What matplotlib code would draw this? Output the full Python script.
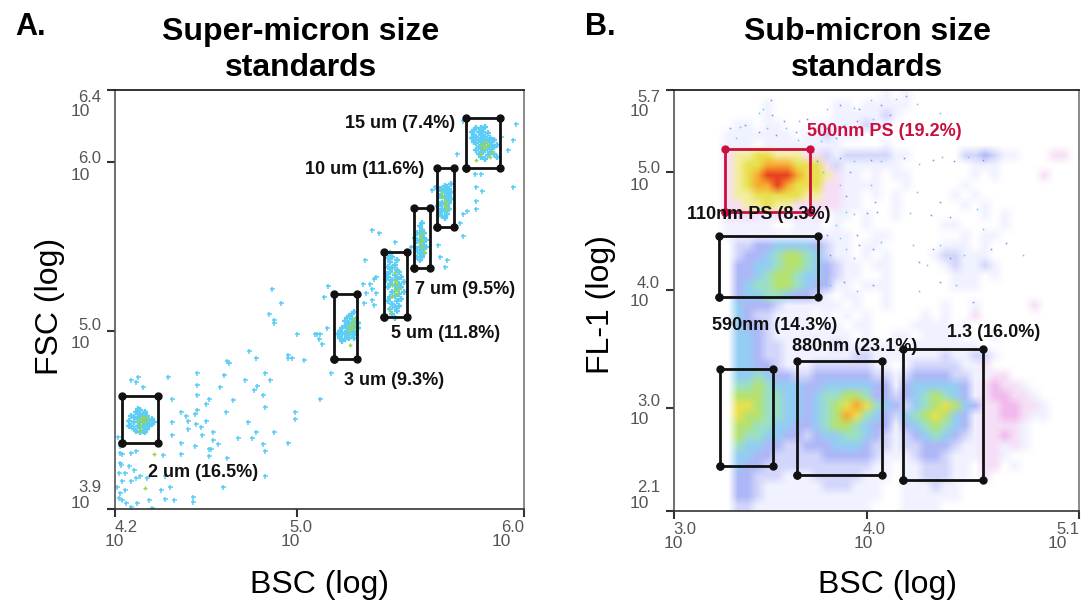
import matplotlib
matplotlib.use('Agg')
import matplotlib.pyplot as plt
from matplotlib.colors import ListedColormap
import numpy as np

plt.rcParams['font.family'] = ['Liberation Sans', 'DejaVu Sans']

# all values are log10 of the channel
a_xlim = (4.198, 6.0)
a_ylim = (3.947, 6.426)
a_xticks = [4.198, 5.0, 6.0]
a_xticklabels = ['4.2', '5.0', '6.0']
a_yticks = [3.947, 5.0, 6.0, 6.426]
a_yticklabels = ['3.9', '5.0', '6.0', '6.4']

b_xlim = (3.0, 5.098)
b_ylim = (2.127, 5.695)
b_xticks = [3.0, 4.0, 5.098]
b_xticklabels = ['3.0', '4.0', '5.1']
b_yticks = [2.127, 3.0, 4.0, 5.0, 5.695]
b_yticklabels = ['2.1', '3.0', '4.0', '5.0', '5.7']

sparse_pts = [
    (4.27,4.71),(4.29,4.70),(4.30,4.73),(4.32,4.67),(4.43,4.73),(4.56,4.75),(4.56,4.68),(4.68,4.74),
    (4.66,4.67),(4.56,4.62),(4.61,4.60),(4.60,4.57),(4.45,4.60),(4.72,4.59),(4.69,4.82),(4.70,4.81),
    (4.79,4.88),(4.82,4.84),(4.77,4.71),(4.86,4.75),(4.88,4.71),(4.81,4.65),(4.85,4.62),(4.825,4.675),
    (4.86,4.55),(4.685,4.52),(4.56,4.53),(4.55,4.51),(4.49,4.52),(4.51,4.50),(4.52,4.47),(4.45,4.46),
    (4.60,4.47),(4.555,4.45),(4.575,4.43),(4.52,4.42),(4.58,4.385),(4.45,4.385),(4.63,4.40),(4.63,4.355),
    (4.65,4.33),(4.49,4.34),(4.55,4.32),(4.61,4.30),(4.62,4.30),(4.61,4.26),(4.49,4.27),(4.41,4.265),
    (4.69,4.25),(4.785,4.46),(4.74,4.37),(4.80,4.37),(4.82,4.40),(4.90,4.40),(4.85,4.33),(4.86,4.29),
    (4.96,4.34),(4.99,4.52),(4.99,4.48),(5.10,4.60),(5.15,4.75),(4.96,4.86),(4.96,4.84),(4.98,4.84),
    (5.03,4.83),(5.00,4.98),(4.875,5.10),(4.90,5.045),(4.90,5.065),(4.93,5.165),(5.09,4.985),(5.10,4.985),
    (5.08,4.98),(5.095,4.95),(5.11,4.925),(5.13,5.015),
    (4.22,4.28),(4.23,4.27),(4.22,4.22),(4.225,4.21),(4.26,4.20),(4.28,4.18),(4.24,4.16),(4.215,4.16),
    (4.27,4.115),(4.23,4.11),(4.29,4.13),(4.31,4.14),(4.34,4.13),(4.205,4.08),(4.22,4.04),(4.24,4.06),
    (4.215,4.01),(4.23,4.00),(4.245,3.98),(4.27,3.96),(4.295,3.98),(4.35,4.00),(4.40,4.06),(4.42,4.005),
    (4.46,4.00),(4.54,4.02),(4.54,3.99),(4.44,4.076),(4.675,4.08),(4.86,4.14),(4.42,4.14),(4.27,4.28),
    (4.29,4.29),(4.36,3.95),(4.21,4.375),(4.22,4.32),
    (4.89,5.25),(5.135,5.265),(5.12,5.20),(5.30,5.42),(5.33,5.60),(5.36,5.58),(5.43,5.525),(5.29,5.28),
    (5.32,5.28),(5.34,5.31),(5.35,5.32),(5.305,5.225),(5.33,5.25),(5.35,5.225),(5.33,5.185),(5.295,5.165),
    (5.34,5.155),(5.62,5.51),(5.63,5.44),(5.66,5.42),(5.65,5.38),(5.73,5.56),(5.72,5.64),(5.73,5.69),
    (5.75,5.71),(5.79,5.72),(5.79,5.77),(5.815,5.83),(5.79,5.855),(5.95,5.855),(5.785,5.93),(5.81,5.93),
    (5.93,6.07),(5.95,6.13),(5.965,6.225),(5.90,6.15),(5.705,6.05),(5.73,6.24),(5.595,5.835),(5.61,5.855),
    (5.50,5.50),
]

cluster_pts = [
    # 2 um
    (4.26,4.47),(4.27,4.44),(4.27,4.50),(4.28,4.42),(4.28,4.46),(4.28,4.49),(4.29,4.52),(4.29,4.41),
    (4.30,4.44),(4.30,4.48),(4.30,4.51),(4.31,4.43),(4.31,4.46),(4.31,4.50),(4.31,4.53),(4.32,4.41),
    (4.32,4.44),(4.32,4.48),(4.32,4.51),(4.33,4.43),(4.33,4.46),(4.33,4.49),(4.33,4.52),(4.34,4.42),
    (4.34,4.45),(4.34,4.48),(4.34,4.50),(4.35,4.44),(4.35,4.47),(4.36,4.45),(4.36,4.48),(4.31,4.40),
    (4.33,4.40),(4.30,4.54),(4.37,4.46),(4.26,4.44),
    # 3 um
    (5.20,4.98),(5.19,5.00),(5.19,4.96),(5.20,5.02),(5.21,4.95),(5.21,4.99),(5.21,5.03),(5.21,5.06),
    (5.22,4.97),(5.22,5.00),(5.22,5.04),(5.22,5.08),(5.23,4.96),(5.23,4.99),(5.23,5.02),(5.23,5.05),
    (5.23,5.09),(5.24,4.98),(5.24,5.01),(5.24,5.04),(5.24,5.07),(5.24,5.10),(5.25,4.96),(5.25,5.00),
    (5.25,5.03),(5.25,5.06),(5.25,5.11),(5.26,4.99),(5.26,5.03),(5.26,5.07),(5.27,5.02),(5.27,5.05),
    (5.20,4.94),(5.18,4.98),
    # 5 um
    (5.39,5.30),(5.39,5.34),(5.40,5.18),(5.40,5.26),(5.40,5.32),(5.40,5.38),(5.40,5.43),(5.41,5.13),
    (5.41,5.20),(5.41,5.28),(5.41,5.35),(5.41,5.41),(5.41,5.46),(5.42,5.10),(5.42,5.16),(5.42,5.23),
    (5.42,5.30),(5.42,5.37),(5.42,5.44),(5.43,5.08),(5.43,5.14),(5.43,5.21),(5.43,5.27),(5.43,5.33),
    (5.43,5.39),(5.44,5.12),(5.44,5.18),(5.44,5.25),(5.44,5.31),(5.44,5.36),(5.44,5.42),(5.45,5.15),
    (5.45,5.22),(5.45,5.28),(5.45,5.35),(5.46,5.19),(5.46,5.26),(5.46,5.32),(5.47,5.23),(5.47,5.29),
    # 7 um
    (5.52,5.50),(5.52,5.55),(5.53,5.44),(5.53,5.48),(5.53,5.53),(5.53,5.58),(5.54,5.42),(5.54,5.46),
    (5.54,5.50),(5.54,5.54),(5.54,5.58),(5.54,5.62),(5.55,5.44),(5.55,5.48),(5.55,5.52),(5.55,5.56),
    (5.55,5.60),(5.55,5.64),(5.56,5.46),(5.56,5.50),(5.56,5.54),(5.56,5.58),(5.57,5.50),(5.57,5.54),
    # 10 um
    (5.62,5.74),(5.63,5.70),(5.63,5.75),(5.63,5.80),(5.63,5.84),(5.64,5.68),(5.64,5.72),(5.64,5.76),
    (5.64,5.80),(5.64,5.84),(5.65,5.67),(5.65,5.71),(5.65,5.75),(5.65,5.79),(5.65,5.83),(5.65,5.86),
    (5.66,5.69),(5.66,5.73),(5.66,5.77),(5.66,5.81),(5.66,5.85),(5.67,5.72),(5.67,5.76),(5.67,5.80),
    (5.67,5.84),(5.68,5.78),(5.68,5.82),(5.68,5.87),
    # 15 um
    (5.77,6.18),(5.77,6.14),(5.78,6.19),(5.78,6.12),(5.78,6.16),(5.79,6.20),(5.79,6.15),(5.79,6.11),
    (5.79,6.07),(5.80,6.18),(5.80,6.13),(5.80,6.09),(5.80,6.05),(5.81,6.20),(5.81,6.16),(5.81,6.12),
    (5.81,6.08),(5.81,6.03),(5.82,6.18),(5.82,6.14),(5.82,6.10),(5.82,6.06),(5.83,6.21),(5.83,6.15),
    (5.83,6.11),(5.83,6.07),(5.83,6.02),(5.84,6.17),(5.84,6.13),(5.84,6.09),(5.84,6.04),(5.85,6.14),
    (5.85,6.10),(5.85,6.06),(5.86,6.12),(5.86,6.08),(5.87,6.13),(5.87,6.09),(5.87,6.05),(5.88,6.10),
    (5.88,6.03),
]

green_pts = [
    (4.30,4.47),(4.31,4.48),(4.32,4.46),(4.32,4.49),(4.33,4.47),(4.31,4.44),(4.34,4.49),(4.31,4.41),
    (4.37,4.27),(4.33,4.07),
    (5.23,5.03),(5.24,5.05),(5.24,5.02),(5.25,5.07),(5.23,5.00),(5.25,5.04),(5.235,4.92),
    (5.42,5.27),(5.43,5.24),(5.43,5.30),(5.44,5.22),(5.44,5.28),(5.42,5.21),(5.43,5.35),(5.45,5.25),(5.41,5.12),
    (5.54,5.56),(5.55,5.54),(5.55,5.50),(5.54,5.52),(5.55,5.58),(5.56,5.47),
    (5.64,5.79),(5.65,5.77),(5.65,5.74),(5.66,5.76),(5.64,5.82),(5.66,5.72),
    (5.81,6.10),(5.82,6.08),(5.83,6.12),(5.81,6.05),(5.84,6.10),(5.79,6.01),(5.85,6.03),(5.86,6.06),(5.83,6.09),
]

# gates: x0, x1, y0, y1
a_gates = [
    (4.23, 4.387, 4.336, 4.616),
    (5.165, 5.264, 4.832, 5.218),
    (5.384, 5.485, 5.085, 5.47),
    (5.517, 5.584, 5.372, 5.73),
    (5.617, 5.693, 5.618, 5.963),
    (5.746, 5.896, 5.963, 6.262),
]
a_labels = ['15 um (7.4%)', '10 um (11.6%)', '7 um (9.5%)', '5 um (11.8%)', '3 um (9.3%)', '2 um (16.5%)']
a_label_x = [5.211, 5.035, 5.52, 5.414, 5.207, 4.344]
a_label_y = [6.225, 5.953, 5.243, 4.988, 4.71, 4.16]

b_gates = [
    (3.231, 3.746, 3.943, 4.46),
    (3.238, 3.511, 2.506, 3.33),
    (3.636, 4.076, 2.432, 3.40),
    (4.188, 4.603, 2.387, 3.497),
]
b_red_gate = (3.264, 3.705, 4.661, 5.195)
b_labels = ['500nm PS (19.2%)', '110nm PS (8.3%)', '590nm (14.3%)', '880nm (23.1%)', '1.3 (16.0%)']
b_label_x = [3.689, 3.067, 3.197, 3.611, 4.415]
b_label_y = [5.347, 4.636, 3.695, 3.525, 3.636]

# single events outside the dense clouds of panel B
b_sparse = [
    (3.29,5.37),(3.34,5.38),(3.37,5.40),(3.32,5.29),(3.44,5.34),(3.46,5.53),(3.50,5.61),(3.44,5.50),
    (3.51,5.48),(3.48,5.37),(3.53,5.31),(3.58,5.37),(3.63,5.34),(3.64,5.27),(3.57,5.43),(3.65,5.43),
    (3.69,5.45),(3.79,5.53),(3.86,5.57),(3.93,5.54),(3.96,5.53),(4.02,5.61),(4.07,5.57),(4.15,5.62),
    (4.20,5.64),(4.26,5.58),(4.12,5.48),(4.03,5.45),(3.95,5.43),(3.88,5.40),(3.79,5.37),(3.76,5.26),
    (3.84,5.29),(3.72,5.17),(3.74,5.09),(3.77,5.00),(3.86,5.115),(3.93,5.09),(4.02,5.10),(4.07,5.09),
    (4.19,5.115),(4.27,5.07),(4.34,5.10),(4.39,5.13),(4.45,5.09),(4.525,5.13),(4.60,5.10),(4.38,5.50),
    (3.91,5.00),(4.02,4.89),(4.04,4.75),(3.89,4.66),(4.00,4.65),(3.93,4.64),(4.05,4.66),(4.26,4.83),
    (4.38,4.75),(4.57,4.69),(4.33,4.635),(4.22,4.65),(4.43,4.62),(4.60,4.52),(3.81,4.30),(3.89,4.35),
    (3.96,4.38),(3.93,4.27),(4.03,4.35),(4.24,4.38),(4.34,4.35),(4.38,4.38),(4.27,4.24),(4.31,4.21),
    (4.43,4.27),(4.50,4.30),(4.64,4.35),(4.81,4.30),(4.72,4.40),(3.81,4.04),(3.88,4.07),(3.95,3.99),
    (4.03,4.04),(4.27,3.99),(4.38,4.07),(4.46,4.04),(4.55,3.90),(3.86,4.89),(3.89,4.80),(3.84,4.55),
    (3.79,4.47),(3.86,4.44),(3.95,4.47),(4.07,4.41),
]

# panel B event density, estimated per cell, top row first
# 0 empty, 1-9 blue to red, p/q pink, y pale yellow
density_rows = [
    "000000000000000000000101",
    "000000000100000011011111",
    "000000000100000011111210",
    "000000110110001111121100",
    "000001111111011211100000",
    "000001110111111110000100",
    "00000pyy77yyypp21222221100000223211000pp",
    "00000py77888777p211111100000001110000",
    "00000py78999877yp11010110000001010000p",
    "00000py78898777pp111100100000100000000",
    "00000pyy77777yypp1101010000010100",
    "00000ppyy7yyppppp110001000000101",
    "00000pppp1p1p1p0110100100000000101",
    "00000111110011101001000000011000010",
    "0000011111111111110011000000010110",
    "000000223344443211011000000111010",
    "000000233456654211010100001221110",
    "000000334456654321101100000121121",
    "000000334566544321100100000011101",
    "00000034556654331101110000001110",
    "000000344554332101100100000",
    "000000433321111110100100000100100000p",
    "000000432211110101010000010100p",
    "00000043321111011011000011110100",
    "000000443211111111010011011110001",
    "0000004432211111211111101111111",
    "0000004432211111112211111112112210",
    "0000004433211122222211012222211p",
    "00000044543322333333221233332211pp",
    "0000005565444334444433134444431pqpp1",
    "0000006665544345566533234565431pqqpp1",
    "0000007765544345678754324567643ppqqpp1",
    "0000007665544345687543245676431ppqqp11",
    "0000006655443345665433134565431pppp1",
    "0000006554433234455432123454321ppqp1",
    "0000005443322333444322122333211pp1p1",
    "0000004433222223333321112332111pp1",
    "0000004332222222222211011222110pp01",
    "0000003322211122222111011222110p",
    "000000332111111222111001112110",
    "00000033211111111111100111111",
    "0000002211111111111100011110",
]
density_codes = '0123456789pqy'
density_colors = ['#ffffff', '#f1f2ff', '#d3d6fb', '#aeb7f7', '#94cdf3', '#9be0c4',
                  '#b6e270', '#e9e04e', '#f8a92e', '#e8401e', '#f6dff6', '#f1b9ed', '#f3ee9e']

cyan = '#5dcdf6'
green = '#93d84a'
black = '#111111'
crimson = '#c90f3e'
tick_grey = '#555555'

PX = 0.72  # points per pixel at dpi 100


def style_axes(ax, xlim, ylim, xticks, xlabels, yticks, ylabels, x_shift, y_shift):
    ax.set_xlim(xlim)
    ax.set_ylim(ylim)
    ax.set_xticks(xticks)
    ax.set_yticks(yticks)
    ax.set_xticklabels([])
    ax.set_yticklabels([])
    ax.tick_params(length=6, width=1.5, color='#333333')
    ax.spines['left'].set_color('#555555')
    ax.spines['right'].set_color('#777777')
    ax.spines['top'].set_color('#111111')
    ax.spines['bottom'].set_color('#333333')
    for s in ax.spines.values():
        s.set_linewidth(1.2)
    # "10" with the exponent above and to the right of it
    for xt, lab, (d_ten, d_exp) in zip(xticks, xlabels, x_shift):
        ax.annotate('10', (xt, ylim[0]), xytext=(d_ten * PX, -32 * PX), textcoords='offset points',
                    ha='center', va='center', fontsize=12.5, color=tick_grey, annotation_clip=False)
        ax.annotate(lab, (xt, ylim[0]), xytext=(d_exp * PX, -18 * PX), textcoords='offset points',
                    ha='center', va='center', fontsize=12, color=tick_grey, annotation_clip=False)
    for yt, lab, (d_ten, d_exp) in zip(yticks, ylabels, y_shift):
        ax.annotate('10', (xlim[0], yt), xytext=(-25 * PX, -d_ten * PX), textcoords='offset points',
                    ha='right', va='center', fontsize=12.5, color=tick_grey, annotation_clip=False)
        ax.annotate(lab, (xlim[0], yt), xytext=(-14 * PX, -d_exp * PX), textcoords='offset points',
                    ha='right', va='center', fontsize=12, color=tick_grey, annotation_clip=False)


def draw_gate(ax, gate, color, lw=2.0, ms=5):
    x0, x1, y0, y1 = gate
    ax.plot([x0, x1, x1, x0, x0], [y0, y0, y1, y1, y0], color=color, lw=lw,
            marker='o', ms=ms, solid_joinstyle='miter', zorder=4)


fig = plt.figure(figsize=(10.89, 6.01), dpi=100)
ax_a = fig.add_axes([115 / 1089, 1 - 509 / 601, 409 / 1089, 419 / 601])
ax_b = fig.add_axes([674 / 1089, 1 - 511 / 601, 405 / 1089, 421 / 601])

# panel A
sx, sy = zip(*sparse_pts)
cx, cy = zip(*cluster_pts)
gx, gy = zip(*green_pts)
ax_a.plot(sx, sy, '+', color=cyan, ms=3.6, mew=1.1)
ax_a.plot(cx, cy, '+', color=cyan, ms=4.6, mew=1.7)
ax_a.plot(gx, gy, '+', color=green, ms=3.2, mew=1.0)
for gate in a_gates:
    draw_gate(ax_a, gate, black)
for lab, x, y in zip(a_labels, a_label_x, a_label_y):
    ax_a.text(x, y, lab, fontsize=13, fontweight='bold', color='#111111', va='center', zorder=5)
style_axes(ax_a, a_xlim, a_ylim, a_xticks, a_xticklabels, a_yticks, a_yticklabels,
           [(-1, 11), (-7, 4), (-23, -11)], [(-6, -22), (12, -6), (13, -4), (22, 7)])

# panel B
grid_w = 41
density = np.array([[density_codes.index(ch) for ch in row.ljust(grid_w, '0')] for row in density_rows])
ax_b.imshow(density, cmap=ListedColormap(density_colors), vmin=-0.5, vmax=12.5, aspect='auto',
            extent=(b_xlim[0], b_xlim[1], b_ylim[0], b_ylim[1]), interpolation='bilinear',
            interpolation_stage='rgba')
bx, by = zip(*b_sparse)
ax_b.plot(bx[::2], by[::2], 's', color='#7f88f0', ms=1.1, mew=0)
ax_b.plot(bx[1::2], by[1::2], 's', color='#67c8f0', ms=1.1, mew=0)
draw_gate(ax_b, b_red_gate, crimson)
for gate in b_gates:
    draw_gate(ax_b, gate, black)
for i, (lab, x, y) in enumerate(zip(b_labels, b_label_x, b_label_y)):
    ax_b.text(x, y, lab, fontsize=13, fontweight='bold', color=crimson if i == 0 else '#111111',
              va='center', zorder=5)
style_axes(ax_b, b_xlim, b_ylim, b_xticks, b_xticklabels, b_yticks, b_yticklabels,
           [(-1, 11), (-4, 7), (-22, -11)], [(-7, -23), (12, -6), (12, -6), (13, -4), (22, 8)])

# outer text placed in figure fractions
fig.text(301 / 1089, 1 - 32 / 601, 'Super-micron size', fontsize=23, fontweight='bold', ha='center', va='center')
fig.text(301 / 1089, 1 - 68 / 601, 'standards', fontsize=23, fontweight='bold', ha='center', va='center')
fig.text(867 / 1089, 1 - 32 / 601, 'Sub-micron size', fontsize=23, fontweight='bold', ha='center', va='center')
fig.text(867 / 1089, 1 - 68 / 601, 'standards', fontsize=23, fontweight='bold', ha='center', va='center')
fig.text(15 / 1089, 1 - 27 / 601, 'A.', fontsize=22, fontweight='bold', va='center')
fig.text(585 / 1089, 1 - 27 / 601, 'B.', fontsize=22, fontweight='bold', va='center')
fig.text(319 / 1089, 1 - 585 / 601, 'BSC (log)', fontsize=23, ha='center', va='center')
fig.text(888 / 1089, 1 - 585 / 601, 'BSC (log)', fontsize=23, ha='center', va='center')
fig.text(50 / 1089, 1 - 306 / 601, 'FSC (log)', fontsize=23, rotation=90, ha='center', va='center')
fig.text(601 / 1089, 1 - 305 / 601, 'FL-1 (log)', fontsize=23, rotation=90, ha='center', va='center')

fig.savefig('out.png', dpi=100)
